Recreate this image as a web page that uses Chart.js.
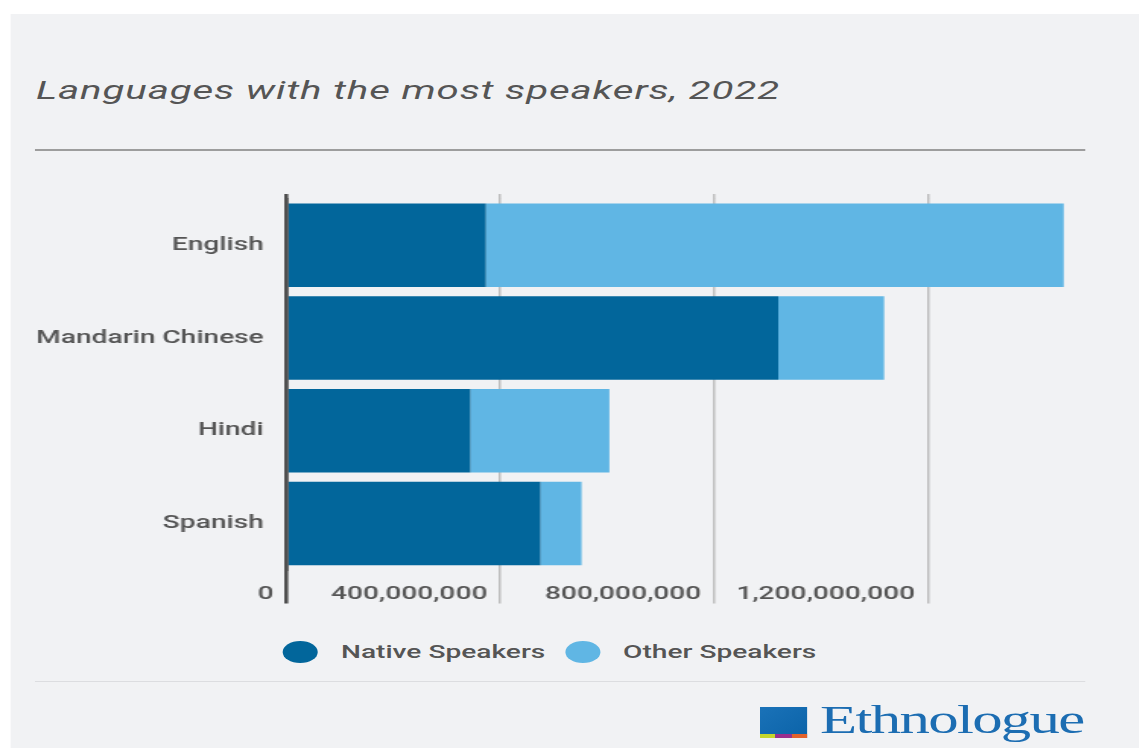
<!DOCTYPE html>
<html>
<head>
<meta charset="utf-8">
<script src="https://cdn.jsdelivr.net/npm/chart.js@4/dist/chart.umd.min.js"></script>
<style>
  html, body { margin: 0; padding: 0; background: #ffffff; overflow: hidden; }
  body { width: 1139px; height: 748px; position: relative; }
  #stage { position: absolute; left: 0; top: 0; width: 749.3px; height: 748px;
           transform: scaleX(1.52); transform-origin: 0 0; }
  #panel { position: absolute; left: 6.6px; top: 14px; right: -10px; bottom: -10px; background: #f1f2f4; }
  #title { position: absolute; left: 23.7px; top: 77px; font: italic 400 26.5px Roboto, sans-serif;
           letter-spacing: 0.56px; color: #555; line-height: 1; white-space: nowrap; }
  #rule1 { position: absolute; left: 23px; top: 149px; width: 691px; height: 2px; background: #9d9d9d; }
  #rule2 { position: absolute; left: 23px; top: 681px; width: 691px; height: 1px; background: #dcdde0; }
  #chartbox { position: absolute; left: 0; top: 193.6px; width: 716px; height: 412px; }
  .leg { position: absolute; top: 639px; height: 26px; display: flex; align-items: center;
         font: 500 18.5px Roboto, sans-serif; color: #555; white-space: nowrap; }
  .dot { position: absolute; top: 641px; width: 23.4px; height: 22px; border-radius: 50%; }
  #logo-sq { position: absolute; left: 499.5px; top: 707px; width: 31.5px; height: 31px;
             background: linear-gradient(135deg, #1a72b8, #0b63a8); }
  .stripe { position: absolute; top: 733.5px; height: 4px; width: 10.5px; }
  #logo-tx { position: absolute; left: 539.5px; top: 699.8px; font: 400 40px "Liberation Serif", "DejaVu Serif", serif;
             letter-spacing: -1.1px; color: #1c6db2; line-height: 1; white-space: nowrap; }
</style>
</head>
<body>
<div id="stage">
  <div id="panel"></div>
  <div id="title">Languages with the most speakers, 2022</div>
  <div id="rule1"></div>
  <div id="chartbox"><canvas id="c" width="716" height="412" style="width:716px;height:412px"></canvas></div>
  <div id="legend"></div>
  <div id="rule2"></div>
  <div id="logo-sq"></div>
  <div class="stripe" style="left:499.5px;background:#c5d62c"></div>
  <div class="stripe" style="left:510px;background:#9a2f8e"></div>
  <div class="stripe" style="left:520.5px;background:#e2622b"></div>
  <div id="logo-tx">Ethnologue</div>
</div>
<script>
// ---- data ----
const categories = ['English', 'Mandarin Chinese', 'Hindi', 'Spanish'];
const nativeSpeakers = [373e6, 920e6, 344e6, 475e6];
const otherSpeakers = [1081e6, 198e6, 260e6, 77e6];
const seriesLabels = ['Native Speakers', 'Other Speakers'];
const seriesColors = ['#02669b', '#60b6e4'];
const tickValues = [0, 400e6, 800e6, 1200e6];
const axisMax = 1.5e9;

// ---- legend (HTML) ----
const legend = document.getElementById('legend');
const dotX = [185.8, 371.5];
const textX = [224.3, 409.9];
seriesLabels.forEach((lab, i) => {
  const d = document.createElement('div');
  d.className = 'dot';
  d.style.left = dotX[i] + 'px';
  d.style.background = seriesColors[i];
  legend.appendChild(d);
  const t = document.createElement('div');
  t.className = 'leg';
  t.style.left = textX[i] + 'px';
  t.textContent = lab;
  legend.appendChild(t);
});

// ---- chart ----
Chart.defaults.font.family = 'Roboto, sans-serif';
const tickFont = { size: 18.5, weight: '500' };
const gridColor = ctx => (ctx.tick && ctx.tick.value === 0) ? '#4f4f4f' : '#bdbdbd';
const gridWidth = ctx => (ctx.tick && ctx.tick.value === 0) ? 2.6 : 1.5;
const setTicks = scale => { scale.ticks = tickValues.map(v => ({ value: v })); };
const noPad = s => { s.paddingTop = 0; s.paddingBottom = 0; s.paddingLeft = 0; s.paddingRight = 0; };

new Chart(document.getElementById('c'), {
  type: 'bar',
  data: {
    labels: categories,
    datasets: [
      { label: seriesLabels[0], data: nativeSpeakers, backgroundColor: seriesColors[0], borderWidth: 0 },
      { label: seriesLabels[1], data: otherSpeakers, backgroundColor: seriesColors[1], borderWidth: 0 }
    ]
  },
  options: {
    indexAxis: 'y',
    responsive: false,
    animation: false,
    layout: { padding: 0 },
    datasets: { bar: { categoryPercentage: 1, barPercentage: 0.9 } },
    plugins: { legend: { display: false }, tooltip: { enabled: false }, title: { display: false } },
    scales: {
      x: {
        type: 'linear', position: 'bottom', stacked: true, min: 0, max: axisMax,
        afterBuildTicks: setTicks,
        afterFit: s => { s.height = 36; noPad(s); },
        grid: { color: gridColor, lineWidth: gridWidth, drawTicks: true, tickLength: 33.5 },
        border: { display: false },
        ticks: {
          align: 'end', labelOffset: -8.5, padding: -19.8, maxRotation: 0, autoSkip: false,
          color: '#555', font: tickFont,
          callback: v => Number(v).toLocaleString('en-US')
        }
      },
      x2: {
        type: 'linear', position: 'top', min: 0, max: axisMax,
        afterBuildTicks: setTicks,
        afterFit: s => { s.height = 4.8; noPad(s); },
        grid: { color: gridColor, lineWidth: gridWidth, drawOnChartArea: false, drawTicks: true, tickLength: 4.8 },
        border: { display: false },
        ticks: { display: false }
      },
      y: {
        stacked: true,
        afterFit: s => { s.width = 188.5; noPad(s); },
        grid: { display: true, drawOnChartArea: false, drawTicks: false },
        border: { display: true, color: '#4f4f4f', width: 2.6, z: 1 },
        ticks: { color: '#555', font: tickFont, padding: 15 }
      }
    }
  }
});
</script>
</body>
</html>
